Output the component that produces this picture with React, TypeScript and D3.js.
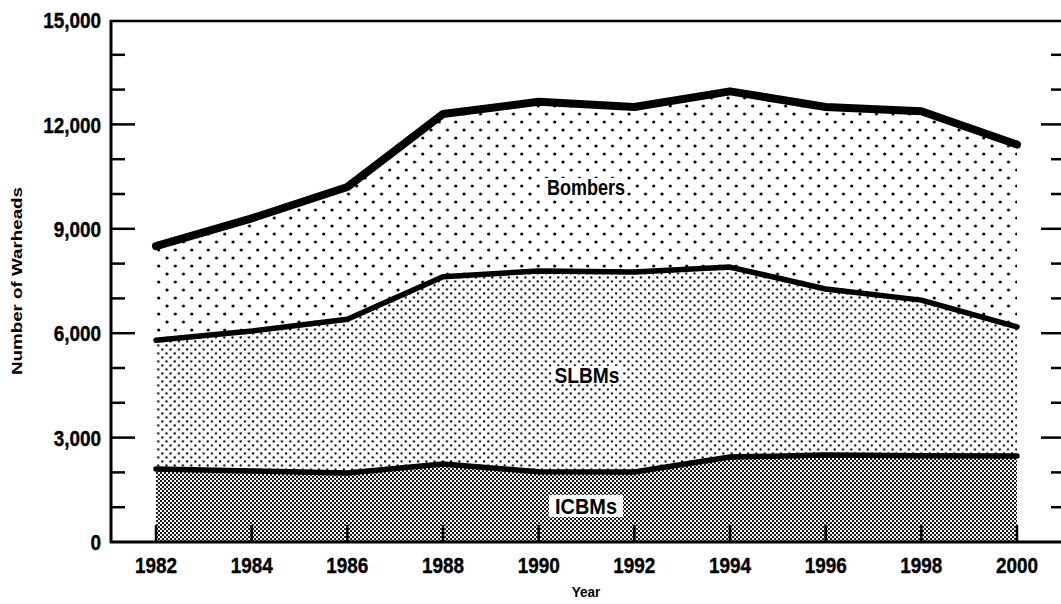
import React from "react";
import * as d3 from "d3";

const years = [1982, 1984, 1986, 1988, 1990, 1992, 1994, 1996, 1998, 2000];
const icbms = [2100, 2040, 1980, 2240, 2020, 2010, 2440, 2500, 2480, 2470];
const slbms = [3700, 4020, 4420, 5380, 5770, 5750, 5460, 4770, 4470, 3710];
const bombers = [2700, 3240, 3800, 4680, 4860, 4740, 5050, 5230, 5430, 5240];
const seriesKeys = ["ICBMs", "SLBMs", "Bombers"];
const yMajorTicks = [0, 3000, 6000, 9000, 12000, 15000];
const yMinorTicks = d3.range(0, 15001, 1000);

const W = 1061;
const H = 604;
const FONT = "'Liberation Sans', Arial, sans-serif";
const SX = 0.86;

export default function App() {
  const x = d3.scaleLinear().domain([1982, 2000]).range([156, 1017]);
  const y = d3.scaleLinear().domain([0, 15000]).range([542, 20]);

  const rows = years.map((yr, i) => ({
    year: yr,
    ICBMs: icbms[i],
    SLBMs: slbms[i],
    Bombers: bombers[i],
  }));
  const stack = d3.stack<any>().keys(seriesKeys)(rows);

  const area = d3
    .area<any>()
    .x((d) => x(d.data.year))
    .y0((d) => y(d[0]))
    .y1((d) => y(d[1]));
  const line = d3
    .line<any>()
    .x((d) => x(d.data.year))
    .y((d) => y(d[1]));

  const fills = ["url(#pIcbm)", "url(#pSlbm)", "url(#pBomb)"];
  const lineW = [5.5, 5.5, 8];

  const labels = [
    { text: "Bombers", cx: 586, base: 195, w: 78, box: false },
    { text: "SLBMs", cx: 587, base: 383, w: 65, box: false },
    { text: "ICBMs", cx: 586, base: 514, w: 62, box: true },
  ];

  return (
    <svg
      width={W}
      height={H}
      style={{ position: "absolute", left: 0, top: 0, background: "#fff" }}
    >
      <defs>
        <pattern id="pBomb" width={16.5} height={16} patternUnits="userSpaceOnUse">
          <rect width={16.5} height={16} fill="#fff" />
          <circle cx={2} cy={2} r={1.6} fill="#000" />
          <circle cx={10.25} cy={10} r={1.6} fill="#000" />
        </pattern>
        <pattern id="pSlbm" width={8.25} height={8} patternUnits="userSpaceOnUse">
          <rect width={8.25} height={8} fill="#fff" />
          <circle cx={1.5} cy={1.5} r={1.15} fill="#000" />
          <circle cx={5.6} cy={5.5} r={1.15} fill="#000" />
        </pattern>
        <pattern id="pIcbm" width={4} height={4} patternUnits="userSpaceOnUse">
          <rect width={4} height={4} fill="#f2f2f2" />
          <rect x={0} y={0} width={2} height={2} fill="#1a1a1a" />
          <rect x={2} y={2} width={2} height={2} fill="#1a1a1a" />
        </pattern>
      </defs>

      {stack.map((s, i) => (
        <path key={"a" + i} d={area(s) || ""} fill={fills[i]} stroke="none" />
      ))}

      {/* series labels */}
      {labels.map((l) => (
        <g key={l.text}>
          {l.box && (
            <rect
              x={l.cx - l.w / 2 - 6}
              y={l.base - 19}
              width={l.w + 12}
              height={22}
              fill="#fff"
            />
          )}
          {!l.box && (
            <rect
              x={l.cx - l.w / 2 - 2}
              y={l.base - 17}
              width={l.w + 4}
              height={18}
              fill="#fff"
            />
          )}
          <text
            x={l.cx - l.w / 2}
            y={l.base}
            textLength={l.w}
            lengthAdjust="spacingAndGlyphs"
            fontFamily={FONT}
            fontWeight="bold"
            fontSize={22}
            fill="#000"
          >
            {l.text}
          </text>
        </g>
      ))}

      {stack.map((s, i) => (
        <path
          key={"l" + i}
          d={line(s) || ""}
          fill="none"
          stroke="#000"
          strokeWidth={lineW[i]}
          strokeLinecap="round"
          strokeLinejoin="round"
        />
      ))}

      {/* frame */}
      <line x1={111} y1={20} x2={111} y2={543} stroke="#000" strokeWidth={3} />
      <line x1={110} y1={21} x2={W} y2={21} stroke="#000" strokeWidth={2.5} />
      <line x1={110} y1={542} x2={W} y2={542} stroke="#000" strokeWidth={3} />

      {/* y ticks left & right */}
      {yMinorTicks.map((v) => {
        const major = yMajorTicks.includes(v);
        if (v === 0 || v === 15000) return null;
        return (
          <g key={"t" + v}>
            <line x1={111} x2={major ? 135 : 125} y1={y(v)} y2={y(v)} stroke="#000" strokeWidth={2.5} />
            <line x1={major ? 1041 : 1051} x2={W} y1={y(v)} y2={y(v)} stroke="#000" strokeWidth={2.5} />
          </g>
        );
      })}
      {yMajorTicks.map((v) => (
        <g key={"yl" + v} transform={`translate(101,${y(v)}) scale(${SX},1)`}>
          <text
            x={0}
            y={0}
            dy="0.37em"
            textAnchor="end"
            fontFamily={FONT}
            fontWeight="bold"
            fontSize={22}
            fill="#000"
            stroke="#000"
            strokeWidth={0.4}
          >
            {d3.format(",")(v)}
          </text>
        </g>
      ))}

      {/* x ticks */}
      {years.map((yr) => (
        <g key={"x" + yr}>
          <line x1={x(yr)} x2={x(yr)} y1={542} y2={525} stroke="#000" strokeWidth={2.5} />
          <g transform={`translate(${x(yr)},573) scale(${SX},1)`}>
            <text
              x={0}
              y={0}
              textAnchor="middle"
              fontFamily={FONT}
              fontWeight="bold"
              fontSize={22}
              fill="#000"
              stroke="#000"
              strokeWidth={0.4}
            >
              {yr}
            </text>
          </g>
        </g>
      ))}

      {/* axis titles */}
      <g transform={`translate(586,597) scale(0.9,1)`}>
        <text
          x={0}
          y={0}
          textAnchor="middle"
          fontFamily={FONT}
          fontWeight="bold"
          fontSize={15}
          fill="#000"
        >
          Year
        </text>
      </g>
      <text
        transform={`translate(22,${281}) rotate(-90)`}
        x={-94}
        y={0}
        textLength={188}
        lengthAdjust="spacingAndGlyphs"
        fontFamily={FONT}
        fontWeight="bold"
        fontSize={15}
        fill="#000"
      >
        Number of Warheads
      </text>
    </svg>
  );
}
